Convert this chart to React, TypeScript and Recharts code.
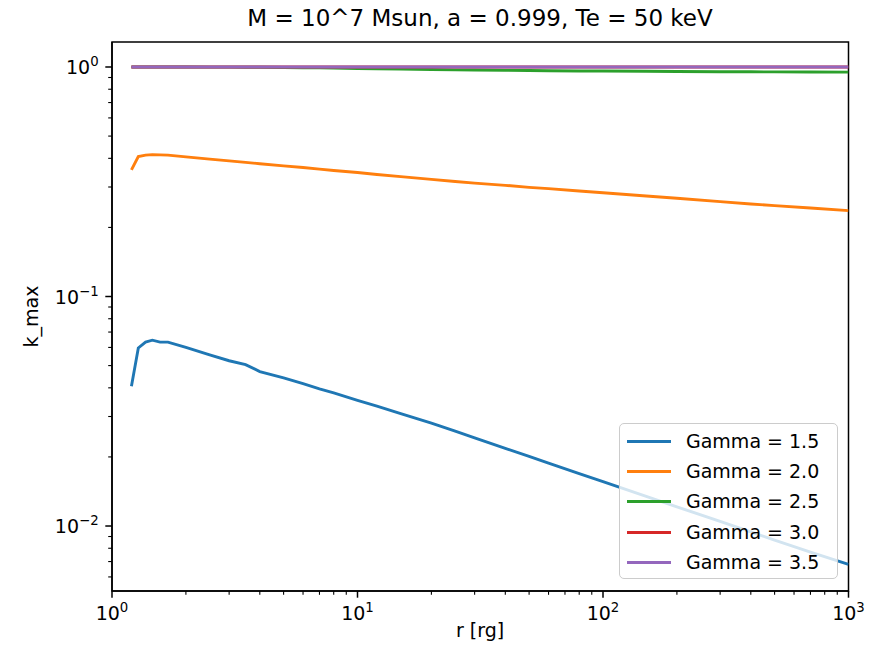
import { LineChart, Line, XAxis, YAxis, ReferenceArea } from "recharts";

// radius in gravitational radii
const rValues = [1.2, 1.28, 1.37, 1.46, 1.57, 1.69, 2, 2.5, 3, 3.5, 4, 5, 6, 7, 8, 10, 12, 15, 20, 25, 30, 40, 50, 60, 80, 100, 150, 200, 300, 400, 500, 700, 1000];

const gamma15 = [0.0406, 0.0597, 0.0633, 0.0645, 0.0633, 0.0633, 0.06, 0.0557, 0.0525, 0.0505, 0.0471, 0.0442, 0.0417, 0.0396, 0.038, 0.0353, 0.0333, 0.0309, 0.0281, 0.0259, 0.0242, 0.0218, 0.0201, 0.0188, 0.0169, 0.0156, 0.01345, 0.01213, 0.01047, 0.00942, 0.00869, 0.00769, 0.0068];
const gamma20 = [0.356, 0.407, 0.413, 0.415, 0.414, 0.413, 0.406, 0.397, 0.39, 0.384, 0.379, 0.371, 0.365, 0.359, 0.354, 0.347, 0.34, 0.333, 0.324, 0.317, 0.312, 0.305, 0.299, 0.295, 0.288, 0.283, 0.274, 0.268, 0.259, 0.253, 0.249, 0.243, 0.2366];
const gamma25 = [1, 1, 1, 1, 1, 1, 1, 0.999, 0.999, 0.998, 0.997, 0.995, 0.993, 0.991, 0.989, 0.985, 0.982, 0.979, 0.975, 0.972, 0.97, 0.967, 0.965, 0.963, 0.961, 0.96, 0.958, 0.956, 0.954, 0.953, 0.952, 0.951, 0.95];
const gamma30 = [1, 1, 1, 1, 1, 1, 1, 1, 1, 1, 1, 1, 1, 1, 1, 1, 1, 1, 1, 1, 1, 1, 1, 1, 1, 1, 1, 1, 1, 1, 1, 1, 1];
const gamma35 = [1, 1, 1, 1, 1, 1, 1, 1, 1, 1, 1, 1, 1, 1, 1, 1, 1, 1, 1, 1, 1, 1, 1, 1, 1, 1, 1, 1, 1, 1, 1, 1, 1];

const series = [
  { key: "g15", name: "Gamma = 1.5", color: "#1f77b4", values: gamma15 },
  { key: "g20", name: "Gamma = 2.0", color: "#ff7f0e", values: gamma20 },
  { key: "g25", name: "Gamma = 2.5", color: "#2ca02c", values: gamma25 },
  { key: "g30", name: "Gamma = 3.0", color: "#d62728", values: gamma30 },
  { key: "g35", name: "Gamma = 3.5", color: "#9467bd", values: gamma35 },
];

const xMajorTicks = [1, 10, 100, 1000];
const xMinorTicks = [2, 3, 4, 5, 6, 7, 8, 9, 20, 30, 40, 50, 60, 70, 80, 90, 200, 300, 400, 500, 600, 700, 800, 900];
const yMajorTicks = [0.01, 0.1, 1];
const yMinorTicks = [0.006, 0.007, 0.008, 0.009, 0.02, 0.03, 0.04, 0.05, 0.06, 0.07, 0.08, 0.09, 0.2, 0.3, 0.4, 0.5, 0.6, 0.7, 0.8, 0.9];

const xDomain = [1, 1000];
const yDomain = [0.00521, 1.285];

const FONT = "DejaVu Sans";

const chartData = rValues.map((r, i) => {
  const row: Record<string, number> = { r };
  series.forEach((s) => {
    row[s.key] = s.values[i];
  });
  return row;
});

function exponentOf(v: number) {
  const e = Math.log10(v);
  const rounded = Math.round(e);
  return Math.abs(e - rounded) < 1e-6 ? rounded : null;
}

function expLabel(e: number) {
  return e < 0 ? "\u2212" + Math.abs(e) : String(e);
}

const XTick = (props: any) => {
  const { x, y, payload } = props;
  const e = exponentOf(payload.value);
  const major = e !== null;
  return (
    <g>
      <line x1={x} x2={x} y1={y} y2={y + (major ? 6.7 : 3.8)} stroke="#000" strokeWidth={major ? 1.5 : 1.1} />
      {major && (
        <text x={x} y={y + 29} textAnchor="middle" fontSize={19} fontFamily={FONT} fill="#000">
          <tspan>10</tspan>
          <tspan dy={-8} fontSize={13.3}>{expLabel(e as number)}</tspan>
        </text>
      )}
    </g>
  );
};

const YTick = (props: any) => {
  const { x, y, payload } = props;
  const e = exponentOf(payload.value);
  const major = e !== null;
  return (
    <g>
      <line x1={x} x2={x - (major ? 6.7 : 3.8)} y1={y} y2={y} stroke="#000" strokeWidth={major ? 1.5 : 1.1} />
      {major && (
        <text x={x - 13.4} y={y + 7} textAnchor="end" fontSize={19} fontFamily={FONT} fill="#000">
          <tspan>10</tspan>
          <tspan dy={-8} fontSize={13.3}>{expLabel(e as number)}</tspan>
        </text>
      )}
    </g>
  );
};

export default function App() {
  return (
    <div style={{ position: "absolute", left: 0, top: 0, width: 880, height: 660, background: "#fff" }}>
      <LineChart width={880} height={660} data={chartData} margin={{ top: 42, right: 31.5, bottom: 39, left: 52 }}>
        <XAxis
          dataKey="r"
          type="number"
          scale="log"
          domain={xDomain}
          allowDataOverflow
          ticks={[...xMajorTicks, ...xMinorTicks]}
          interval={0}
          tick={<XTick />}
          tickLine={false}
          tickSize={0}
          tickMargin={0}
          height={30}
          axisLine={{ stroke: "#000", strokeWidth: 1.5 }}
        />
        <YAxis
          type="number"
          scale="log"
          domain={yDomain}
          allowDataOverflow
          ticks={[...yMajorTicks, ...yMinorTicks]}
          interval={0}
          tick={<YTick />}
          tickLine={false}
          tickSize={0}
          tickMargin={0}
          width={60}
          axisLine={{ stroke: "#000", strokeWidth: 1.5 }}
        />
        {series.map((s) => (
          <Line
            key={s.key}
            dataKey={s.key}
            name={s.name}
            type="linear"
            stroke={s.color}
            strokeWidth={2.9}
            dot={false}
            activeDot={false}
            isAnimationActive={false}
          />
        ))}
        <ReferenceArea
          x1={xDomain[0]}
          x2={xDomain[1]}
          y1={yDomain[0]}
          y2={yDomain[1]}
          fill="none"
          fillOpacity={0}
          stroke="#000"
          strokeWidth={1.5}
          ifOverflow="visible"
        />
      </LineChart>

      <svg width={880} height={660} style={{ position: "absolute", left: 0, top: 0, pointerEvents: "none" }}>
        <text x={480} y={26} textAnchor="middle" fontSize={23} fontFamily={FONT} fill="#000">
          M = 10^7 Msun, a = 0.999, Te = 50 keV
        </text>
        <text x={480} y={637} textAnchor="middle" fontSize={19} fontFamily={FONT} fill="#000">
          r [rg]
        </text>
        <text x={38} y={316.5} textAnchor="middle" fontSize={19} fontFamily={FONT} fill="#000" transform="rotate(-90 38 316.5)">
          k_max
        </text>
      </svg>

      <div
        style={{
          position: "absolute",
          left: 619,
          top: 423,
          width: 219,
          height: 156,
          boxSizing: "border-box",
          border: "1.5px solid #cccccc",
          borderRadius: 5,
          background: "rgba(255,255,255,0.8)",
          fontFamily: FONT,
          fontSize: 19,
        }}
      >
        {series.map((s, i) => (
          <div key={s.key} style={{ position: "absolute", left: 0, top: 3 + i * 30.2, height: 28, width: "100%" }}>
            <div style={{ position: "absolute", left: 7, top: 13, width: 44, height: 3, background: s.color }} />
            <div style={{ position: "absolute", left: 66, top: 0, lineHeight: "28px", whiteSpace: "nowrap" }}>{s.name}</div>
          </div>
        ))}
      </div>
    </div>
  );
}
